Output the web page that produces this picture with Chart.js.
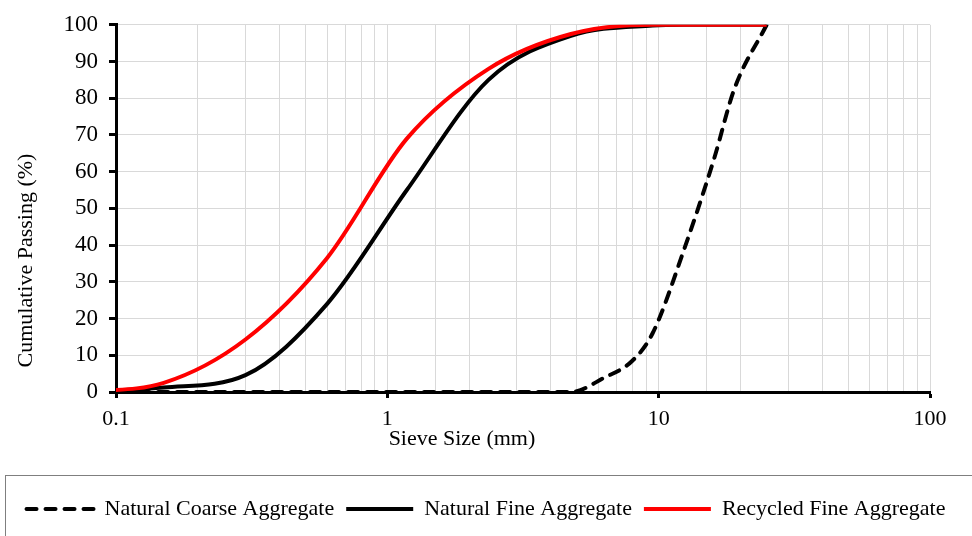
<!DOCTYPE html>
<html>
<head>
<meta charset="utf-8">
<script src="https://cdn.jsdelivr.net/npm/chart.js@4/dist/chart.umd.min.js"></script>
<style>
  body { margin: 0; background: #fff; }
</style>
</head>
<body>
<canvas id="grafikSaringan" width="972" height="536"></canvas>
<script>
// sieve sizes in mm, passing in %
const sieveSizes = [0.075, 0.15, 0.3, 0.6, 1.18, 2.36, 4.75, 9.5, 12.5, 19, 25];
const naturalFine = [0, 1.2, 4.6, 24, 55, 85, 97, 99.8, 100, 100, 100];
const recycledFine = [0, 2.5, 14.3, 36.5, 69, 88, 97.5, 100, 100, 100, 100];
const coarseSizes = [0.075, 0.6, 2.36, 4.75, 6.3, 8, 9.5, 12.5, 16, 19, 25];
const naturalCoarse = [0, 0, 0, 0, 3.9, 8.5, 16, 39.5, 63.5, 82.5, 100];

const seriesNames = ["Natural Coarse Aggregate", "Natural Fine Aggregate", "Recycled Fine Aggregate"];
const xTitle = "Sieve Size (mm)";
const yTitle = "Cumulative Passing (%)";
const yTicks = [0, 10, 20, 30, 40, 50, 60, 70, 80, 90, 100];

const fontFamily = "'Liberation Serif', 'Times New Roman', serif";
Chart.defaults.font.family = fontFamily;
Chart.defaults.font.size = 22;
Chart.defaults.color = "#000";

const toPoints = (xs, vals) => xs.map((s, i) => ({ x: s, y: vals[i] }));
const isDecade = (v) => Math.abs(Math.log10(v) - Math.round(Math.log10(v))) < 1e-9;

// legend frame + axis titles
const extras = {
    id: "extras",
    afterDraw(chart) {
        const { ctx, chartArea: a, legend } = chart;
        ctx.save();
        ctx.strokeStyle = "#7f7f7f";
        ctx.lineWidth = 1;
        ctx.strokeRect(5.5, legend.top - 10.5, chart.width, chart.height);
        ctx.fillStyle = "#000";
        ctx.font = "22px " + fontFamily;
        ctx.textAlign = "center";
        ctx.textBaseline = "middle";
        ctx.fillText(xTitle, a.left + (a.right - a.left) * 0.425, a.bottom + 47);
        ctx.translate(26, a.top + (a.bottom - a.top) * 0.642);
        ctx.rotate(-Math.PI / 2);
        ctx.fillText(yTitle, 0, 0);
        ctx.restore();
    },
};

new Chart(document.getElementById("grafikSaringan"), {
    type: "line",
    data: {
        datasets: [
            {
                label: seriesNames[0],
                data: toPoints(coarseSizes, naturalCoarse),
                borderColor: "#000",
                borderWidth: 4,
                borderDash: [10, 9],
                borderCapStyle: "round",
                order: 1,
            },
            {
                label: seriesNames[1],
                data: toPoints(sieveSizes, naturalFine),
                borderColor: "#000",
                borderWidth: 4,
                order: 1,
            },
            {
                label: seriesNames[2],
                data: toPoints(sieveSizes, recycledFine),
                borderColor: "#ff0000",
                borderWidth: 4,
                order: 0,
            },
        ],
    },
    options: {
        responsive: false,
        animation: false,
        layout: { padding: { left: 0, right: 0, top: 23, bottom: 6 } },
        elements: {
            point: { radius: 0 },
            line: { cubicInterpolationMode: "monotone", fill: false },
        },
        plugins: {
            tooltip: { enabled: false },
            legend: {
                position: "bottom",
                labels: {
                    usePointStyle: true,
                    pointStyle: "line",
                    pointStyleWidth: 67,
                    padding: 12,
                    font: { size: 22 },
                    sort: (a, b) => a.datasetIndex - b.datasetIndex,
                    generateLabels: (chart) =>
                        Chart.defaults.plugins.legend.labels.generateLabels(chart).map((item) => {
                            const ds = chart.data.datasets[item.datasetIndex];
                            item.lineDash = ds.borderDash || [];
                            item.lineCap = ds.borderCapStyle || "butt";
                            item.lineWidth = ds.borderWidth;
                            item.strokeStyle = ds.borderColor;
                            return item;
                        }),
                },
            },
        },
        scales: {
            x: {
                type: "logarithmic",
                min: 0.1,
                max: 100,
                afterFit: (s) => { s.height = 94; },
                border: { color: "#000", width: 3 },
                grid: {
                    color: "#d9d9d9",
                    lineWidth: 1,
                    tickLength: 6,
                    tickWidth: 3,
                    tickColor: (c) => (c.tick && isDecade(c.tick.value) ? "#000" : "rgba(0,0,0,0)"),
                },
                ticks: {
                    autoSkip: false,
                    maxRotation: 0,
                    padding: 8,
                    font: { size: 22 },
                    callback: (v) => (isDecade(v) ? String(v) : ""),
                },
            },
            y: {
                min: 0,
                max: 100,
                afterFit: (s) => { s.width = 116; },
                afterBuildTicks: (s) => { s.ticks = yTicks.map((v) => ({ value: v })); },
                border: { color: "#000", width: 3 },
                grid: {
                    color: "#d9d9d9",
                    lineWidth: 1,
                    tickLength: 7,
                    tickWidth: 3,
                    tickColor: "#000",
                },
                ticks: { padding: 11, font: { size: 23 } },
            },
            y2: {
                position: "right",
                afterFit: (s) => { s.width = 42; },
                grid: { display: false },
                border: { display: false },
                ticks: { display: false },
            },
        },
    },
    plugins: [extras],
});
</script>
</body>
</html>
